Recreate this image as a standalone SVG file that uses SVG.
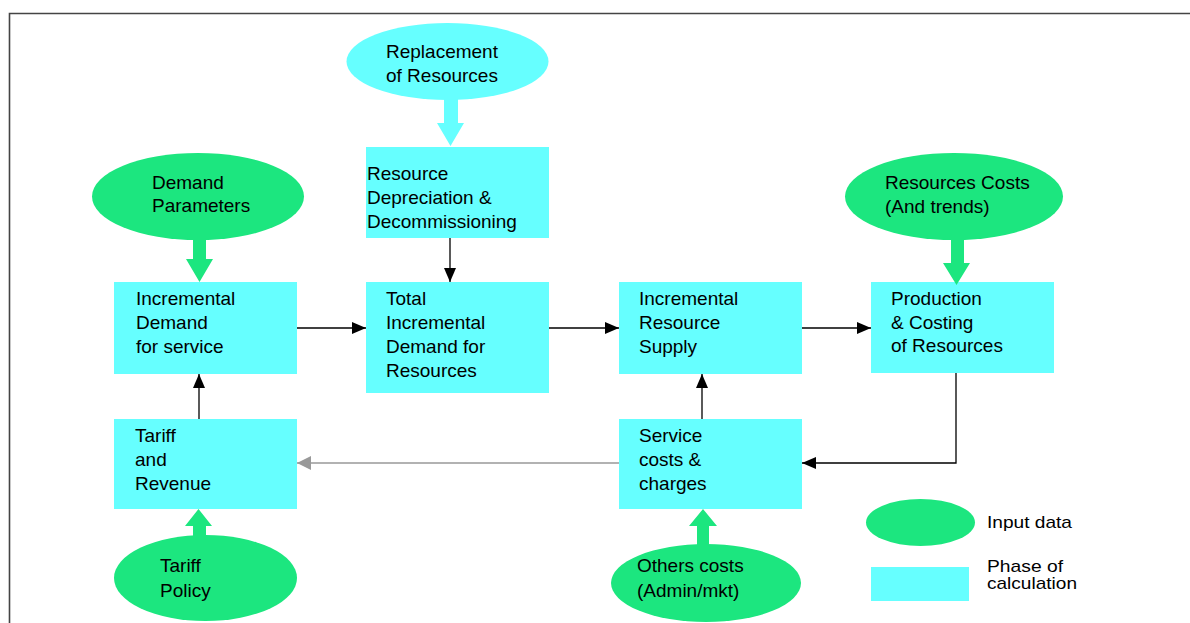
<svg xmlns="http://www.w3.org/2000/svg" width="1190" height="623" viewBox="0 0 1190 623">
<style>
  .phase { fill: #66FFFF; }
  .input { fill: #1CE67F; }
  .repl { fill: #66FFFF; }
  text { font-family: "Liberation Sans", Arial, sans-serif; font-size: 19px; fill: #000; }
  .leg { font-size: 17px; }
  .conn { stroke: #000; stroke-width: 1.3; fill: none; }
  .grey { stroke: #999; stroke-width: 1.6; fill: none; }
</style>
<defs>
  <marker id="ah" markerUnits="userSpaceOnUse" markerWidth="14" markerHeight="12" refX="14" refY="6" orient="auto">
    <path d="M0,0 L14,6 L0,12 Z" fill="#000"/>
  </marker>
  <marker id="ahg" markerUnits="userSpaceOnUse" markerWidth="14" markerHeight="14" refX="14" refY="7" orient="auto">
    <path d="M0,0 L14,7 L0,14 Z" fill="#999"/>
  </marker>
</defs>
<rect width="1190" height="623" fill="#fff"/>
<path d="M9.5,623 V13.5 H1190" stroke="#444" stroke-width="1.6" fill="none"/>

<g id="replacement">
  <ellipse class="repl" cx="447.5" cy="61.5" rx="101" ry="38.5"/>
  <text x="386" y="58">Replacement</text>
  <text x="386" y="82">of Resources</text>
</g>
<g id="depreciation">
  <rect class="phase" x="366" y="147" width="183" height="91"/>
  <text x="367" y="180">Resource</text>
  <text x="367" y="204">Depreciation &amp;</text>
  <text x="367" y="228">Decommissioning</text>
</g>
<g id="demand-parameters">
  <ellipse class="input" cx="198" cy="196.5" rx="106" ry="43.5"/>
  <text x="152" y="189">Demand</text>
  <text x="152" y="212">Parameters</text>
</g>
<g id="resources-costs">
  <ellipse class="input" cx="954" cy="196.5" rx="109" ry="43.5"/>
  <text x="885" y="189">Resources Costs</text>
  <text x="885" y="213">(And trends)</text>
</g>
<g id="incremental-demand">
  <rect class="phase" x="114" y="282" width="183" height="92"/>
  <text x="136" y="305">Incremental</text>
  <text x="136" y="329">Demand</text>
  <text x="136" y="353">for service</text>
</g>
<g id="total-incremental">
  <rect class="phase" x="366" y="282" width="183" height="111"/>
  <text x="386" y="305">Total</text>
  <text x="386" y="329">Incremental</text>
  <text x="386" y="353">Demand for</text>
  <text x="386" y="377">Resources</text>
</g>
<g id="incremental-supply">
  <rect class="phase" x="619" y="282" width="183" height="92"/>
  <text x="639" y="305">Incremental</text>
  <text x="639" y="329">Resource</text>
  <text x="639" y="353">Supply</text>
</g>
<g id="production">
  <rect class="phase" x="871" y="282" width="183" height="91"/>
  <text x="891" y="305">Production</text>
  <text x="891" y="329">&amp; Costing</text>
  <text x="891" y="352">of Resources</text>
</g>
<g id="tariff-revenue">
  <rect class="phase" x="114" y="419" width="183" height="90"/>
  <text x="135" y="442">Tariff</text>
  <text x="135" y="466">and</text>
  <text x="135" y="490">Revenue</text>
</g>
<g id="service-costs">
  <rect class="phase" x="619" y="419" width="183" height="90"/>
  <text x="639" y="442">Service</text>
  <text x="639" y="466">costs &amp;</text>
  <text x="639" y="490">charges</text>
</g>
<g id="tariff-policy">
  <ellipse class="input" cx="205.5" cy="578" rx="91.5" ry="43"/>
  <text x="160" y="572">Tariff</text>
  <text x="160" y="597">Policy</text>
</g>
<g id="others-costs">
  <ellipse class="input" cx="706" cy="583" rx="95" ry="39"/>
  <text x="637" y="572">Others costs</text>
  <text x="637" y="597">(Admin/mkt)</text>
</g>
<g id="legend">
  <ellipse class="input" cx="920.5" cy="522.5" rx="54.5" ry="23.5"/>
  <text class="leg" x="987" y="528" textLength="85" lengthAdjust="spacingAndGlyphs">Input data</text>
  <rect class="phase" x="871" y="567" width="98" height="34"/>
  <text class="leg" x="987" y="572" textLength="76" lengthAdjust="spacingAndGlyphs">Phase of</text>
  <text class="leg" x="987" y="589" textLength="90" lengthAdjust="spacingAndGlyphs">calculation</text>
</g>

<g id="connectors">
  <path class="conn" d="M450,238 V282" marker-end="url(#ah)"/>
  <path class="conn" d="M297,328 H366" marker-end="url(#ah)"/>
  <path class="conn" d="M549,328 H619" marker-end="url(#ah)"/>
  <path class="conn" d="M802,328 H871" marker-end="url(#ah)"/>
  <path class="conn" d="M199,419 V374" marker-end="url(#ah)"/>
  <path class="conn" d="M702,419 V374" marker-end="url(#ah)"/>
  <path class="conn" d="M956,373 V463 H802" marker-end="url(#ah)"/>
  <path class="grey" d="M619,463 H297" marker-end="url(#ahg)"/>
  <polygon class="repl" points="444,98 458,98 458,123 464,123 450.5,146 437,123 444,123"/>
  <polygon class="input" points="193,236 206,236 206,259 213,259 199.5,282 186,259 193,259"/>
  <polygon class="input" points="951,238 964,238 964,263 970,263 956.5,285 943,263 951,263"/>
  <polygon class="input" points="193,538 206,538 206,526 212,526 198.5,509 185,526 193,526"/>
  <polygon class="input" points="697,546 709,546 709,526 717,526 703,509 689,526 697,526"/>
</g>
</svg>
